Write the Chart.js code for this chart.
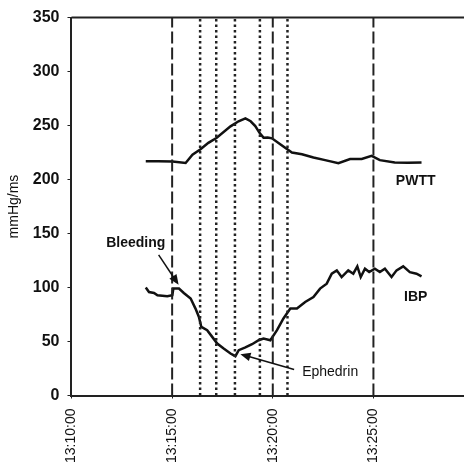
<!DOCTYPE html>
<html>
<head>
<meta charset="utf-8">
<script src="https://cdn.jsdelivr.net/npm/chart.js@4"></script>
<style>
  body { margin: 0; background: #fff; }
</style>
</head>
<body>
<canvas id="pwttChart" width="464" height="468"></canvas>
<script>
// Time is in minutes after 13:00:00
const tickValues = [10, 15, 20, 25];
const tickLabels = ['13:10:00', '13:15:00', '13:20:00', '13:25:00'];

// PWTT curve (ms)
const pwttTimes = [13.69, 14.3, 15.02, 15.67, 16.01, 16.41, 16.8, 17.2, 17.9, 18.3, 18.64, 18.9, 19.13, 19.35, 19.54, 19.75, 19.96,
  20.37, 20.95, 21.45, 22.02, 22.6, 23.26, 23.84, 24.42, 24.91, 25.32, 26.06, 26.7, 27.39];
const pwttValues = [217, 217, 216.7, 215.4, 223, 228, 234, 238.5, 249.3, 254, 256.6, 254, 249.6, 243, 238.8, 239, 238.2,
  232.6, 225, 223.5, 220.4, 218, 215.2, 219, 219, 222, 218, 215.8, 215.5, 215.8];

// IBP curve (mmHg)
const ibpTimes = [13.69, 13.85, 14.1, 14.27, 14.76, 15.01, 15.06, 15.34, 15.58, 15.92, 16.16, 16.33, 16.45, 16.74, 16.99, 17.24,
  17.56, 17.9, 18.14, 18.31, 18.64, 18.97, 19.3, 19.54, 19.88, 20.21, 20.53, 20.87, 21.2, 21.61, 22.02, 22.35, 22.68, 22.93,
  23.18, 23.42, 23.75, 24.0, 24.2, 24.37, 24.58, 24.79, 25.07, 25.32, 25.57, 25.9, 26.15, 26.48, 26.81, 27.14, 27.39];
const ibpValues = [100, 95.8, 95, 92.8, 91.9, 92.8, 99, 99, 95, 89.8, 80.5, 72.8, 63.5, 60.5, 54.3, 48.1,
  43.5, 38.9, 36.4, 42, 44.5, 47.5, 51.2, 52.8, 51.2, 60.5, 71.3, 80.5, 80.5, 86.6, 91.2, 99, 103.6, 112.8,
  115.9, 109.7, 115.9, 112.8, 119.6, 109.7, 117.4, 114.3, 117.4, 114.3, 117.4, 109.7, 115.9, 119.6, 114.3, 112.8, 110.3];

// Event markers
const dashedTimes = [15, 20, 25];
const dottedTimes = [16.39, 17.19, 18.12, 19.36, 20.73];

// Text labels
const labelTexts = ['PWTT', 'IBP', 'Bleeding', 'Ephedrin'];
const labelTimes = [27.1, 27.1, 13.19, 22.85];
const labelValues = [198.5, 91, 141, 21.7];
const labelBold = [true, true, true, false];

// Arrows: from (time, value) to (time, value)
const arrowFromTimes = [14.33, 21.06];
const arrowFromValues = [130.2, 24];
const arrowToTimes = [15.32, 18.39];
const arrowToValues = [102.5, 38.3];

const ctx = document.getElementById('pwttChart').getContext('2d');

// build the vertical marker datasets, one per line
function markerSet(t, dash, width) {
    return {
        data: [{ x: t, y: 0 }, { x: t, y: 350 }],
        borderColor: '#222',
        borderWidth: width,
        borderDash: dash,
        pointRadius: 0
    };
}

const datasets = [];
dashedTimes.forEach(t => datasets.push(markerSet(t, [12, 4], 2)));
dottedTimes.forEach(t => datasets.push(markerSet(t, [2.5, 3], 2.5)));
datasets.push({
    data: pwttTimes.map((t, i) => ({ x: t, y: pwttValues[i] })),
    borderColor: '#111',
    borderWidth: 2.5,
    pointRadius: 0
});
datasets.push({
    data: ibpTimes.map((t, i) => ({ x: t, y: ibpValues[i] })),
    borderColor: '#111',
    borderWidth: 2.5,
    pointRadius: 0
});

// draws the top frame line, the labels and the arrows
const notesPlugin = {
    id: 'notes',
    afterDatasetsDraw(chart) {
        const c = chart.ctx;
        const xs = chart.scales.x;
        const ys = chart.scales.y;
        const area = chart.chartArea;
        c.save();
        c.strokeStyle = '#222';
        c.lineWidth = 2;
        c.beginPath();
        c.moveTo(area.left, area.top);
        c.lineTo(area.right, area.top);
        c.stroke();

        c.fillStyle = '#111';
        c.textAlign = 'center';
        c.textBaseline = 'middle';
        labelTexts.forEach((txt, i) => {
            c.font = (labelBold[i] ? 'bold ' : '') + '14px "Liberation Sans", Arial, sans-serif';
            c.fillText(txt, xs.getPixelForValue(labelTimes[i]), ys.getPixelForValue(labelValues[i]));
        });

        c.strokeStyle = '#111';
        c.lineWidth = 1.5;
        arrowFromTimes.forEach((t, i) => {
            const x1 = xs.getPixelForValue(t);
            const y1 = ys.getPixelForValue(arrowFromValues[i]);
            const x2 = xs.getPixelForValue(arrowToTimes[i]);
            const y2 = ys.getPixelForValue(arrowToValues[i]);
            const ang = Math.atan2(y2 - y1, x2 - x1);
            const len = 11;
            c.beginPath();
            c.moveTo(x1, y1);
            c.lineTo(x2 - Math.cos(ang) * len * 0.8, y2 - Math.sin(ang) * len * 0.8);
            c.stroke();
            c.beginPath();
            c.moveTo(x2, y2);
            c.lineTo(x2 - len * Math.cos(ang - 0.4), y2 - len * Math.sin(ang - 0.4));
            c.lineTo(x2 - len * Math.cos(ang + 0.4), y2 - len * Math.sin(ang + 0.4));
            c.closePath();
            c.fill();
        });
        c.restore();
    }
};

new Chart(ctx, {
    type: 'line',
    data: { datasets: datasets },
    options: {
        responsive: false,
        animation: false,
        layout: { padding: { top: 7, right: 0, bottom: -5, left: 4 } },
        plugins: {
            legend: { display: false },
            tooltip: { enabled: false }
        },
        scales: {
            x: {
                type: 'linear',
                min: 10,
                max: 29.5,
                afterBuildTicks: scale => { scale.ticks = tickValues.map(v => ({ value: v })); },
                ticks: {
                    autoSkip: false,
                    minRotation: 90,
                    maxRotation: 90,
                    padding: 10,
                    color: '#111',
                    font: { family: '"Liberation Sans", Arial, sans-serif', size: 14 },
                    callback: v => tickLabels[tickValues.indexOf(v)]
                },
                grid: { display: true, drawOnChartArea: false, tickLength: 3, color: '#222' },
                border: { color: '#222', width: 2 }
            },
            y: {
                min: 0,
                max: 350,
                ticks: {
                    stepSize: 50,
                    padding: 8,
                    color: '#111',
                    font: { family: '"Liberation Sans", Arial, sans-serif', size: 16, weight: 'bold' }
                },
                grid: { display: true, drawOnChartArea: false, tickLength: 4, color: '#222' },
                border: { color: '#222', width: 2 },
                title: {
                    display: true,
                    text: 'mmHg/ms',
                    color: '#111',
                    padding: 2,
                    font: { family: '"Liberation Sans", Arial, sans-serif', size: 14 }
                }
            }
        }
    },
    plugins: [notesPlugin]
});
</script>
</body>
</html>
